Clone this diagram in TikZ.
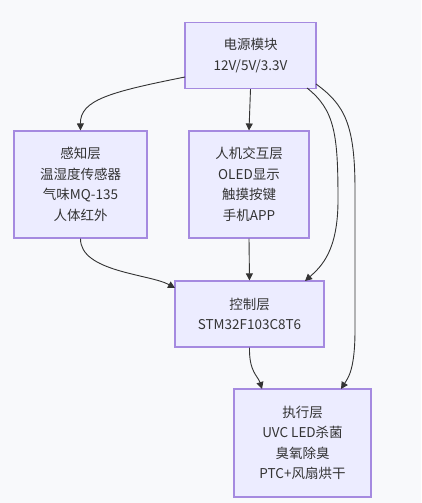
\documentclass[tikz,border=0pt]{standalone}
\usepackage{fontspec}
\setmainfont{Noto Sans CJK SC}
\usetikzlibrary{arrows.meta}
\definecolor{bg}{HTML}{F8F9FB}
\definecolor{boxfill}{HTML}{ECECFF}
\definecolor{boxline}{HTML}{A58AE0}
\definecolor{ink}{HTML}{333333}
\tikzset{
  blk/.style={draw=boxline, fill=boxfill, line width=1.1pt, text=ink, align=center,
    inner sep=0pt, font=\fontsize{13.5}{20.5}\selectfont},
  link/.style={draw=ink, line width=0.9pt, -{Triangle[length=7pt,width=7pt]}}
}
\begin{document}
\begin{tikzpicture}[x=1pt,y=-1pt]
\fill[bg] (0,0) rectangle (421,503);
\useasboundingbox (0,0) rectangle (421,503);
\node[blk, minimum width=131pt, minimum height=66pt] (p) at (250.5,55.5) {电源模块\\12V/5V/3.3V};
\node[blk, minimum width=133pt, minimum height=107pt] (s) at (80.5,184.5) {感知层\\温湿度传感器\\气味MQ-135\\人体红外};
\node[blk, minimum width=120pt, minimum height=107pt] (h) at (249,184.5) {人机交互层\\OLED显示\\触摸按键\\手机APP};
\node[blk, minimum width=149pt, minimum height=66pt] (c) at (249.5,314) {控制层\\STM32F103C8T6};
\node[blk, minimum width=137pt, minimum height=108pt] (e) at (302.5,443) {执行层\\UVC LED杀菌\\臭氧除臭\\PTC+风扇烘干};
\coordinate (pl) at (185,77);
\coordinate (pr1) at (307,88);
\coordinate (pr2) at (316,84);
\coordinate (cl) at (175,288);
\coordinate (ct) at (305,281);
\coordinate (et1) at (262,389);
\coordinate (et2) at (341,389);
\draw[link] (pl) .. controls (110,92) and (80,100) .. (s.north);
\draw[link] (p.south) -- (h.north);
\draw[link] (pr1) .. controls (335,110) and (338,135) .. (338,200) .. controls (338,250) and (322,266) .. (ct);
\draw[link] (pr2) .. controls (345,105) and (355,125) .. (355,190) -- (355,330) .. controls (355,370) and (348,378) .. (et2);
\draw[link] (s.south) .. controls (80,272) and (150,274) .. (cl);
\draw[link] (h.south) -- (c.north);
\draw[link] (c.south) .. controls (249,372) and (258,376) .. (et1);
\end{tikzpicture}
\end{document}
